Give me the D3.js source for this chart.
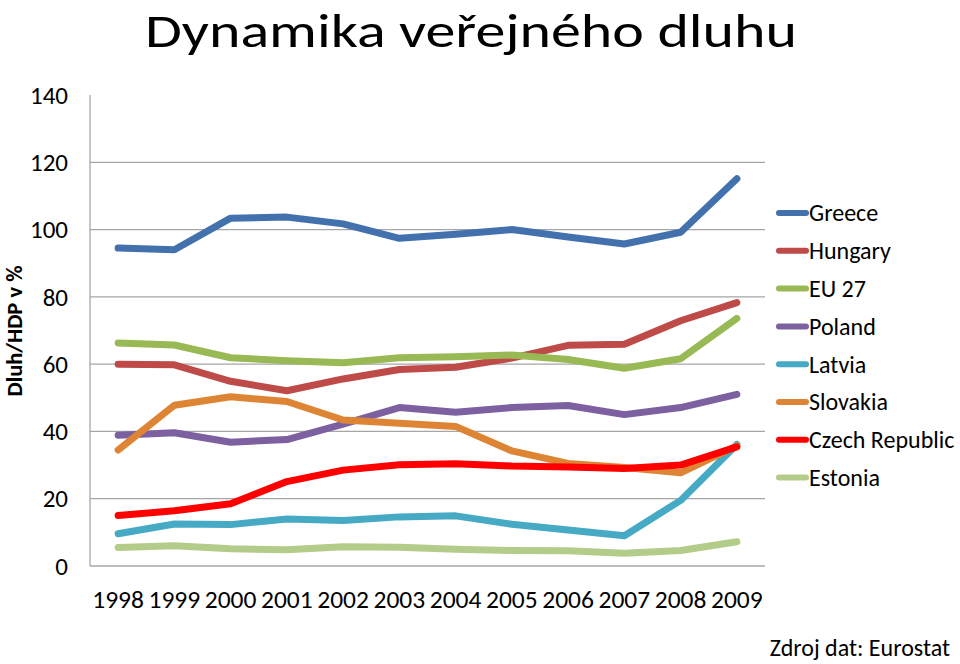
<!DOCTYPE html>
<html><head><meta charset="utf-8">
<script src="https://cdn.jsdelivr.net/npm/d3@7"></script>
<style>body{margin:0;background:#fff}svg{display:block}text{font-family:Carlito,Calibri,"Liberation Sans",sans-serif;fill:#000}</style>
</head><body><svg id="c" width="960" height="664"></svg>
<script>
const years = ["1998","1999","2000","2001","2002","2003","2004","2005","2006","2007","2008","2009"];
const seriesNames = ["Greece","Hungary","EU 27","Poland","Latvia","Slovakia","Czech Republic","Estonia"];
const greece  = [94.5,94.0,103.4,103.7,101.7,97.4,98.6,100.0,97.8,95.7,99.2,115.1];
const hungary = [60.0,59.8,54.9,52.1,55.6,58.4,59.1,61.8,65.6,65.9,72.9,78.3];
const eu27    = [66.3,65.7,61.9,61.0,60.4,61.9,62.2,62.7,61.4,58.8,61.6,73.6];
const poland  = [38.9,39.6,36.8,37.6,42.2,47.1,45.7,47.1,47.7,45.0,47.1,51.0];
const latvia  = [9.6,12.5,12.3,14.0,13.5,14.6,14.9,12.4,10.7,9.0,19.5,36.1];
const slovakia= [34.5,47.8,50.3,48.9,43.4,42.4,41.5,34.2,30.5,29.3,27.7,35.7];
const czech   = [15.0,16.4,18.5,25.1,28.5,30.1,30.4,29.7,29.4,29.0,30.0,35.4];
const estonia = [5.5,6.0,5.1,4.8,5.7,5.6,5.0,4.6,4.5,3.8,4.6,7.2];
const yTicks = [0,20,40,60,80,100,120,140];
const colors = ["#4271AE","#BE4B48","#98B954","#7D60A0","#46AAC5","#DE8535","#FF0000","#B3CC8A"];
const allSeries = [greece,hungary,eu27,poland,latvia,slovakia,czech,estonia];

const svg = d3.select("#c");
const L=90,R=765,T=95,B=566;
const x = d3.scalePoint().domain(years).range([L,R]).padding(0.5);
const y = d3.scaleLinear().domain([0,140]).range([B,T]);

svg.append("g").selectAll("line").data(yTicks.filter(d=>d>0 && d<140)).join("line")
  .attr("x1",L).attr("x2",R).attr("y1",d=>y(d)).attr("y2",d=>y(d))
  .attr("stroke","#a6a6a6").attr("stroke-width",1.3);
svg.append("line").attr("x1",L).attr("x2",L).attr("y1",T).attr("y2",B).attr("stroke","#a6a6a6").attr("stroke-width",1.3);
svg.append("line").attr("x1",L).attr("x2",R).attr("y1",B).attr("y2",B).attr("stroke","#a6a6a6").attr("stroke-width",1.3);

svg.append("g").selectAll("text").data(yTicks).join("text")
  .attr("x",68).attr("y",d=>y(d)).attr("dy","0.35em").attr("text-anchor","end")
  .attr("font-size",25).text(d=>d);
svg.append("g").selectAll("text").data(years).join("text")
  .attr("x",d=>x(d)).attr("y",599).attr("dy","0.35em").attr("text-anchor","middle")
  .attr("font-size",25.5).text(d=>d);

svg.append("text").attr("transform","translate(14,331) rotate(-90)")
  .attr("dy","0.35em").attr("text-anchor","middle").attr("font-weight","bold")
  .attr("font-size",22.5).text("Dluh/HDP v %");

svg.append("text").attr("x",471).attr("y",47).attr("text-anchor","middle")
  .attr("font-size",48).attr("textLength",652).attr("lengthAdjust","spacingAndGlyphs")
  .text("Dynamika veřejného dluhu");

const line = d3.line().x((d,i)=>x(years[i])).y(d=>y(d));
svg.append("g").selectAll("path").data(allSeries).join("path")
  .attr("d",d=>line(d)).attr("fill","none").attr("stroke",(d,i)=>colors[i])
  .attr("stroke-width",7).attr("stroke-linecap","round").attr("stroke-linejoin","round");

const lg = svg.append("g").selectAll("g").data(seriesNames).join("g")
  .attr("transform",(d,i)=>`translate(0,${213+i*37.8})`);
lg.append("line").attr("x1",779).attr("x2",806).attr("stroke",(d,i)=>colors[i])
  .attr("stroke-width",6).attr("stroke-linecap","round");
lg.append("text").attr("x",809).attr("dy","0.35em").attr("font-size",24).text(d=>d);

svg.append("text").attr("x",950).attr("y",648).attr("dy","0.35em").attr("text-anchor","end")
  .attr("font-size",24).text("Zdroj dat: Eurostat");
</script></body></html>
